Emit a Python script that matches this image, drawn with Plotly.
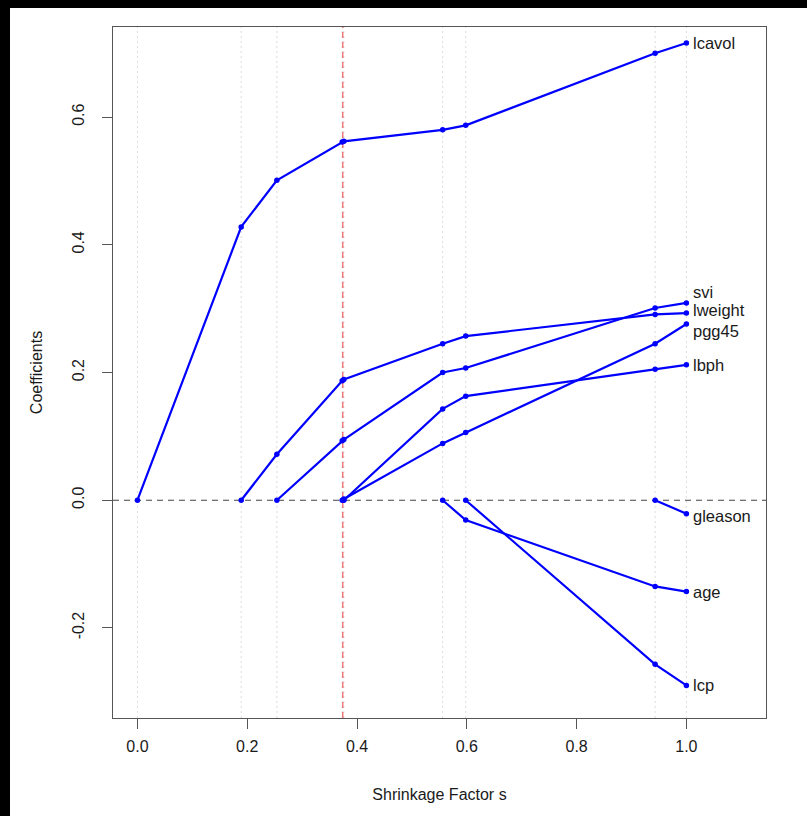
import plotly.graph_objects as go

# Step positions (shrinkage factor s) of the path
steps = [0.0, 0.189, 0.254, 0.373, 0.376, 0.556, 0.598, 0.943, 1.0]
s_chosen = 0.374

# Coefficient paths: (s values, coefficient values)
lcavol_s = [0.0, 0.189, 0.254, 0.373, 0.376, 0.556, 0.598, 0.943, 1.0]
lcavol_v = [0.0, 0.428, 0.501, 0.561, 0.562, 0.580, 0.587, 0.700, 0.716]
lweight_s = [0.189, 0.254, 0.373, 0.376, 0.556, 0.598, 0.943, 1.0]
lweight_v = [0.0, 0.072, 0.187, 0.189, 0.245, 0.257, 0.291, 0.293]
svi_s = [0.254, 0.373, 0.376, 0.556, 0.598, 0.943, 1.0]
svi_v = [0.0, 0.093, 0.095, 0.200, 0.207, 0.301, 0.309]
pgg45_s = [0.373, 0.376, 0.556, 0.598, 0.943, 1.0]
pgg45_v = [0.0, 0.002, 0.089, 0.106, 0.245, 0.276]
lbph_s = [0.376, 0.556, 0.598, 0.943, 1.0]
lbph_v = [0.0, 0.143, 0.163, 0.205, 0.212]
age_s = [0.556, 0.598, 0.943, 1.0]
age_v = [0.0, -0.031, -0.135, -0.143]
lcp_s = [0.598, 0.943, 1.0]
lcp_v = [0.0, -0.257, -0.290]
gleason_s = [0.943, 1.0]
gleason_v = [0.0, -0.021]

series = [
    ("lcavol", lcavol_s, lcavol_v, 0),
    ("lweight", lweight_s, lweight_v, 3),
    ("svi", svi_s, svi_v, 11),
    ("pgg45", pgg45_s, pgg45_v, -7),
    ("lbph", lbph_s, lbph_v, 0),
    ("age", age_s, age_v, 0),
    ("lcp", lcp_s, lcp_v, 0),
    ("gleason", gleason_s, gleason_v, -2),
]

FONT = "Liberation Sans, Arial, sans-serif"
BLUE = "#0000ff"
TXT = "#1a1a1a"

fig = go.Figure()

for name, sx, vy, _ in series:
    fig.add_trace(go.Scatter(
        x=sx, y=vy, mode="lines+markers", name=name,
        line=dict(color=BLUE, width=2.2),
        marker=dict(color=BLUE, size=5.5),
        showlegend=False, hoverinfo="skip",
    ))

for name, sx, vy, ys in series:
    fig.add_annotation(
        x=sx[-1], y=vy[-1], text=name, showarrow=False,
        xanchor="left", yanchor="middle", xshift=6, yshift=ys,
        borderpad=0,
        font=dict(family=FONT, size=16.5, color=TXT),
    )

# step lines
for s in steps:
    fig.add_vline(x=s, line=dict(color="#dcdcdc", width=1, dash="2px,3px"), layer="below")

# zero line and chosen s
fig.add_hline(y=0, line=dict(color="#444", width=1.1, dash="6px,5px"), layer="below")
fig.add_vline(x=s_chosen, line=dict(color="rgba(238,80,80,0.8)", width=1.4, dash="6px,4px"), layer="below")

W, H = 807, 816
ml, mr, mt, mb = 113, 41, 27, 98
pw, ph = W - ml - mr, H - mt - mb

# black strips at top and left edges of the picture
fig.add_shape(type="rect", xref="paper", yref="paper",
              x0=-ml / pw, x1=1 + mr / pw, y0=1 + (mt - 8) / ph, y1=1 + mt / ph,
              fillcolor="black", line=dict(width=0), layer="above")
fig.add_shape(type="rect", xref="paper", yref="paper",
              x0=-ml / pw, x1=-(ml - 10) / pw, y0=-mb / ph, y1=1 + mt / ph,
              fillcolor="black", line=dict(width=0), layer="above")

fig.update_layout(
    width=W, height=H,
    margin=dict(l=ml, r=mr, t=mt, b=mb),
    paper_bgcolor="white", plot_bgcolor="white",
    font=dict(family=FONT, size=16, color=TXT),
    xaxis=dict(
        range=[-0.0445, 1.145], tickvals=[0, 0.2, 0.4, 0.6, 0.8, 1.0],
        ticktext=["0.0", "0.2", "0.4", "0.6", "0.8", "1.0"],
        showgrid=False, zeroline=False,
        showline=True, linecolor="#555", linewidth=1, mirror=True,
        ticks="outside", ticklen=10, tickcolor="#555",
        ticklabelstandoff=4,
        tickfont=dict(size=16, color=TXT),
        title=dict(text="Shrinkage Factor s", font=dict(size=16, color=TXT), standoff=34),
    ),
    yaxis=dict(
        range=[-0.341, 0.741], tickvals=[-0.2, 0.0, 0.2, 0.4, 0.6],
        ticktext=["-0.2", "0.0", "0.2", "0.4", "0.6"],
        tickangle=-90,
        showgrid=False, zeroline=False,
        showline=True, linecolor="#555", linewidth=1, mirror=True,
        ticks="outside", ticklen=10, tickcolor="#555",
        ticklabelstandoff=12,
        tickfont=dict(size=16, color=TXT),
        title=dict(text="Coefficients", font=dict(size=16, color=TXT), standoff=22),
    ),
)

fig.write_html("out.html")
